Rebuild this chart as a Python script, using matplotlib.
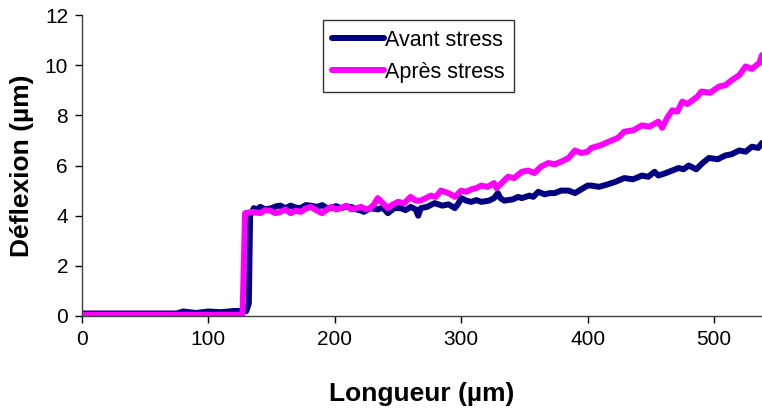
import matplotlib
matplotlib.use("Agg")
import matplotlib.pyplot as plt

# Avant stress (navy)
x_avant = [0, 20, 40, 60, 75, 80, 90, 100, 110, 120,
           130, 132, 133, 136, 138, 141, 145, 150, 154, 157,
           161, 165, 169, 173, 177, 181, 186, 190, 194, 197,
           201, 205, 209, 213, 217, 221, 223, 228, 234, 238,
           242, 247, 252, 256, 260, 264, 266, 268, 273, 279,
           285, 290, 295, 298, 300, 304, 308, 312, 316, 322,
           326, 329, 331, 334, 341, 345, 348, 354, 357, 361,
           366, 370, 374, 379, 385, 390, 395, 400, 403, 409,
           416, 422, 429, 436, 443, 448, 453, 456, 462, 467,
           472, 476, 480, 486, 491, 496, 503, 509, 514, 520,
           525, 530, 535, 538]
y_avant = [0.1, 0.1, 0.1, 0.1, 0.1, 0.18, 0.12, 0.18, 0.15, 0.2,
           0.2, 0.5, 4.0, 4.3, 4.22, 4.35, 4.25, 4.3, 4.38, 4.4,
           4.3, 4.4, 4.32, 4.3, 4.42, 4.4, 4.35, 4.42, 4.3, 4.3,
           4.38, 4.3, 4.36, 4.35, 4.25, 4.2, 4.15, 4.3, 4.25, 4.32,
           4.1, 4.3, 4.3, 4.22, 4.35, 4.25, 4.0, 4.3, 4.35, 4.5,
           4.4, 4.45, 4.3, 4.5, 4.7, 4.6, 4.55, 4.62, 4.55, 4.6,
           4.7, 4.9, 4.7, 4.6, 4.65, 4.75, 4.7, 4.8, 4.75, 4.95,
           4.85, 4.9, 4.9, 5.0, 5.0, 4.9, 5.05, 5.2, 5.2, 5.15,
           5.25, 5.35, 5.5, 5.45, 5.6, 5.55, 5.75, 5.6, 5.7, 5.8,
           5.9, 5.85, 6.0, 5.85, 6.1, 6.3, 6.25, 6.4, 6.45, 6.6,
           6.55, 6.75, 6.7, 6.9]

# Apres stress (magenta)
x_apres = [0, 30, 60, 90, 110, 120, 127, 128, 129, 135,
           141, 145, 149, 153, 157, 161, 165, 169, 173, 177,
           181, 186, 190, 194, 197, 201, 205, 209, 213, 217,
           221, 225, 228, 231, 234, 238, 242, 246, 250, 255,
           260, 264, 268, 272, 276, 280, 284, 290, 295, 300,
           304, 308, 312, 316, 321, 326, 328, 333, 337, 342,
           348, 353, 358, 363, 369, 374, 379, 385, 390, 395,
           400, 403, 410, 419, 424, 429, 436, 443, 449, 456,
           459, 463, 467, 471, 475, 479, 483, 487, 490, 497,
           504, 509, 514, 520, 525, 530, 536, 538]
y_apres = [0.05, 0.05, 0.05, 0.05, 0.05, 0.05, 0.05, 2.0, 4.1, 4.15,
           4.1, 4.22, 4.2, 4.1, 4.15, 4.25, 4.1, 4.2, 4.15, 4.28,
           4.35, 4.2, 4.1, 4.25, 4.35, 4.25, 4.3, 4.4, 4.25, 4.3,
           4.35, 4.25, 4.3, 4.45, 4.7, 4.5, 4.3, 4.45, 4.55, 4.5,
           4.75, 4.6, 4.6, 4.7, 4.8, 4.75, 5.0, 4.9, 4.75, 5.0,
           4.95, 5.05, 5.1, 5.2, 5.15, 5.3, 5.1, 5.35, 5.55, 5.5,
           5.75, 5.8, 5.7, 5.95, 6.1, 6.05, 6.15, 6.3, 6.6, 6.5,
           6.55, 6.7, 6.8, 7.0, 7.1, 7.35, 7.4, 7.6, 7.55, 7.75,
           7.5, 7.9, 8.2, 8.15, 8.55, 8.45, 8.6, 8.75, 8.95, 8.9,
           9.15, 9.2, 9.4, 9.6, 9.95, 9.85, 10.1, 10.4]

x_ticks = [0, 100, 200, 300, 400, 500]
y_ticks = [0, 2, 4, 6, 8, 10, 12]

plt.rcParams["font.family"] = ["Liberation Sans", "DejaVu Sans"]

fig = plt.figure(figsize=(7.62, 4.08), dpi=100)
ax = fig.add_axes([0.1076, 0.2255, 0.8924, 0.7377])

ax.plot(x_avant, y_avant, color="#000080", lw=4.3, label="Avant stress",
        solid_joinstyle="round", solid_capstyle="round")
ax.plot(x_apres, y_apres, color="#FF00FF", lw=4.3, label="Après stress",
        solid_joinstyle="round", solid_capstyle="round")

ax.set_xlim(0, 538)
ax.set_ylim(0, 12)
ax.set_xticks(x_ticks)
ax.set_yticks(y_ticks)
ax.tick_params(labelsize=15, direction="out", length=5, width=1, pad=5)
ax.spines["top"].set_visible(False)
ax.spines["right"].set_visible(False)
for s in ("left", "bottom"):
    ax.spines[s].set_linewidth(1)
    ax.spines[s].set_color("#404040")

ax.set_xlabel("Longueur (µm)", fontsize=19, fontweight="bold", labelpad=24)
ax.set_ylabel("Déflexion (µm)", fontsize=19, fontweight="bold", labelpad=8)

leg = ax.legend(loc="upper left", bbox_to_anchor=(0.354, 0.983), fontsize=15.5,
                frameon=True, fancybox=False, handlelength=2.4,
                handletextpad=0.05, borderpad=0.45, labelspacing=0.5,
                borderaxespad=0)
leg.get_frame().set_edgecolor("black")
leg.get_frame().set_linewidth(1)
for h in leg.get_lines():
    h.set_linewidth(4.3)

fig.savefig("out.png", dpi=100)
